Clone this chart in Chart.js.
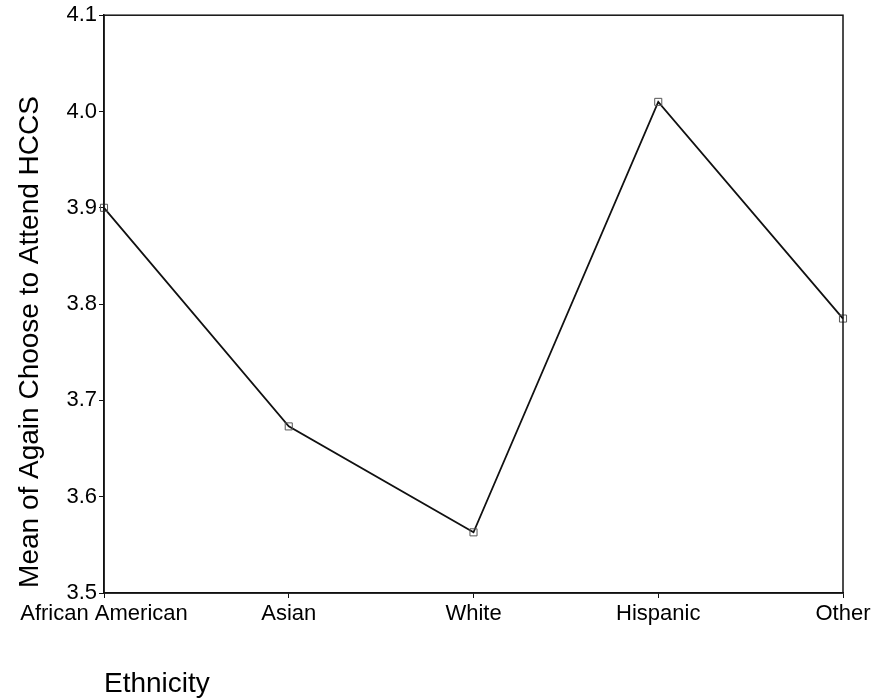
<!DOCTYPE html>
<html>
<head>
<meta charset="utf-8">
<script src="https://cdn.jsdelivr.net/npm/chart.js@4/dist/chart.umd.min.js"></script>
<style>
  body { margin: 0; background: #fff; }
  #wrap { width: 876px; height: 698px; }
</style>
</head>
<body>
<div id="wrap"><canvas id="chart" width="876" height="698"></canvas></div>
<script>
const categories = ['African American', 'Asian', 'White', 'Hispanic', 'Other'];
const means = [3.90, 3.673, 3.563, 4.010, 3.785];
const yTicks = [3.5, 3.6, 3.7, 3.8, 3.9, 4.0, 4.1];
const yTitle = 'Mean of Again Choose to Attend HCCS';

const FONT = "'Liberation Sans', Arial, sans-serif";

// box round the plot area, plus the vertical axis title (sits a bit below centre in the original)
const frame = {
    id: 'frame',
    afterDatasetsDraw(chart) {
        const a = chart.chartArea, ctx = chart.ctx;
        ctx.save();
        ctx.strokeStyle = '#111';
        ctx.lineWidth = 1.5;
        ctx.strokeRect(a.left, a.top, a.right - a.left, a.bottom - a.top);
        ctx.translate(30, 342);
        ctx.rotate(-Math.PI / 2);
        ctx.fillStyle = '#000';
        ctx.font = '28px ' + FONT;
        ctx.textAlign = 'center';
        ctx.textBaseline = 'middle';
        ctx.fillText(yTitle, 0, 0);
        ctx.restore();
    }
};

const ctx = document.getElementById('chart').getContext('2d');
new Chart(ctx, {
    type: 'line',
    data: {
        labels: categories,
        datasets: [{
            data: means,
            borderColor: '#111',
            borderWidth: 1.8,
            tension: 0,
            fill: false,
            pointStyle: 'rect',
            pointRadius: 5,
            pointBorderWidth: 1,
            pointBorderColor: '#555',
            pointBackgroundColor: 'rgba(255,255,255,0)'
        }]
    },
    options: {
        responsive: false,
        animation: false,
        layout: { padding: { top: 15, right: 33, bottom: 0, left: 0 } },
        plugins: { legend: { display: false }, tooltip: { enabled: false } },
        scales: {
            x: {
                offset: false,
                afterFit(axis) { axis.height = 105; },
                grid: { display: true, drawOnChartArea: false, drawTicks: true, tickLength: 5, color: '#111' },
                border: { color: '#111', width: 1.5 },
                ticks: { color: '#000', font: { family: FONT, size: 22 }, padding: 3, maxRotation: 0, autoSkip: false },
                title: {
                    display: true, text: 'Ethnicity', align: 'start', color: '#000',
                    font: { family: FONT, size: 28 }, padding: { top: 0, bottom: -3 }
                }
            },
            y: {
                min: 3.5, max: 4.1,
                afterFit(axis) { axis.width = 104; },
                afterBuildTicks(axis) { axis.ticks = yTicks.map(v => ({ value: v })); },
                grid: { display: true, drawOnChartArea: false, drawTicks: true, tickLength: 5, color: '#111' },
                border: { color: '#111', width: 1.5 },
                ticks: { color: '#000', font: { family: FONT, size: 22 }, padding: 2, callback: v => v.toFixed(1) }
            }
        }
    },
    plugins: [frame]
});
</script>
</body>
</html>
